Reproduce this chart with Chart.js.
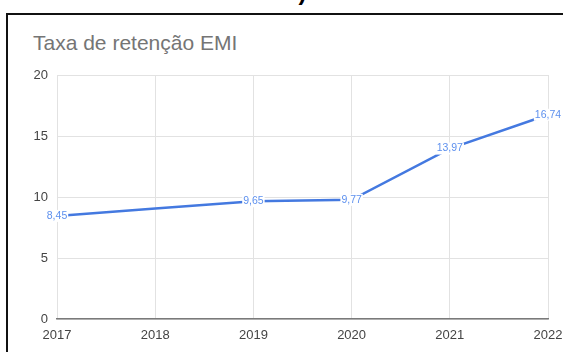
<!DOCTYPE html>
<html>
<head>
<meta charset="utf-8">
<script src="https://cdn.jsdelivr.net/npm/chart.js@4.4.1/dist/chart.umd.min.js"></script>
<style>
  html, body { margin: 0; padding: 0; background: #fff; overflow: hidden; }
  body { width: 563px; height: 352px; position: relative; font-family: "Liberation Sans", Arial, sans-serif; }
  #heading { position: absolute; left: 245px; top: -20px; font-size: 24px; line-height: 24px; font-weight: bold; color: #000; white-space: nowrap; }
  #frame { position: absolute; left: 6px; top: 13px; width: 600px; height: 400px; border: 2px solid #111; }
  #title { position: absolute; left: 33px; top: 32px; font-size: 21px; line-height: 21px; color: #757575; white-space: nowrap; }
  #wrap { position: absolute; left: 0; top: 0; width: 563px; height: 352px; }
</style>
</head>
<body>
<div id="heading">2022)</div>
<div id="frame"></div>
<div id="title">Taxa de retenção EMI</div>
<div id="wrap"><canvas id="chart" width="563" height="352"></canvas></div>
<script>
// Series data
const years = ['2017', '2018', '2019', '2020', '2021', '2022'];
const retention = [8.45, 9.05, 9.65, 9.77, 13.97, 16.74];
const labelledYears = ['2017', '2019', '2020', '2021', '2022'];
const yTicks = [0, 5, 10, 15, 20];

const FONT = '"Liberation Sans", Arial, sans-serif';
const LINE_COLOR = '#4479e0';
const LABEL_COLOR = '#5d90ee';

// Value labels drawn on top of the line with a white box behind them
const valueLabels = {
    id: 'valueLabels',
    afterDatasetsDraw(chart) {
        const ctx = chart.ctx;
        const meta = chart.getDatasetMeta(0);
        ctx.save();
        ctx.font = '10.5px ' + FONT;
        ctx.textAlign = 'center';
        ctx.textBaseline = 'middle';
        meta.data.forEach((pt, i) => {
            if (!labelledYears.includes(years[i])) return;
            const text = retention[i].toFixed(2).replace('.', ',');
            const w = ctx.measureText(text).width;
            ctx.fillStyle = '#fff';
            ctx.fillRect(pt.x - w / 2 - 1, pt.y - 6, w + 2, 12);
            ctx.fillStyle = LABEL_COLOR;
            ctx.fillText(text, pt.x, pt.y);
        });
        ctx.restore();
    }
};

new Chart(document.getElementById('chart'), {
    type: 'line',
    data: {
        labels: years,
        datasets: [{
            data: retention,
            borderColor: LINE_COLOR,
            borderWidth: 2.5,
            pointRadius: 0,
            tension: 0,
            fill: false
        }]
    },
    options: {
        responsive: false,
        animation: false,
        layout: { padding: { left: 0, right: 15, top: 75, bottom: 0 } },
        plugins: {
            legend: { display: false },
            tooltip: { enabled: false },
            title: { display: false }
        },
        scales: {
            x: {
                offset: false,
                grid: { color: '#e2e2e2', drawTicks: false },
                border: { display: true, color: '#7a7a7a', width: 1.5 },
                ticks: { color: '#444', font: { family: FONT, size: 13 }, padding: 9, maxRotation: 0 },
                afterFit(scale) {
                    // fixed plot box: the end labels may hang over the edges
                    scale.height = 33;
                    scale.paddingLeft = 0;
                    scale.paddingRight = 0;
                }
            },
            y: {
                min: 0,
                max: 20,
                afterBuildTicks(scale) { scale.ticks = yTicks.map(v => ({ value: v })); },
                grid: { color: '#e2e2e2', drawTicks: false },
                border: { display: false },
                ticks: { color: '#444', font: { family: FONT, size: 13 }, padding: 9 },
                afterFit(scale) {
                    scale.width = 57;
                    scale.paddingTop = 0;
                    scale.paddingBottom = 0;
                }
            }
        }
    },
    plugins: [valueLabels]
});
</script>
</body>
</html>
